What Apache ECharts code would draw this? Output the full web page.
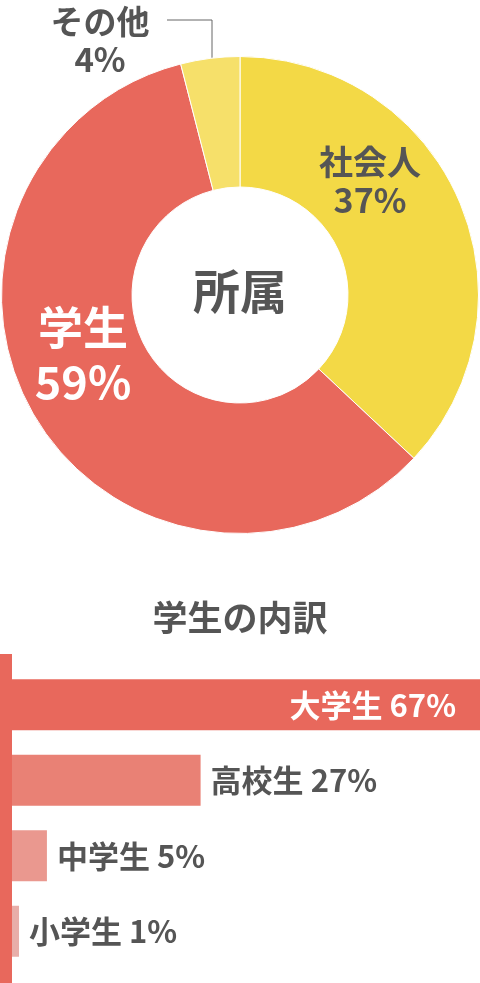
<!DOCTYPE html>
<html>
<head>
<meta charset="utf-8">
<script src="https://cdn.jsdelivr.net/npm/echarts@6/dist/echarts.min.js"></script>
<style>
html,body{margin:0;padding:0;background:#fff;}
#c{width:480px;height:983px;}
</style>
</head>
<body>
<div id="c"></div>
<script>
// ---- data ----
var pieCategories = ['社会人', '学生', 'その他'];
var pieValues = [37, 59, 4];
var pieTitle = '所属';

var barTitle = '学生の内訳';
var barCategories = ['大学生', '高校生', '中学生', '小学生'];
var barValues = [67, 27, 5, 1];

// ---- styles ----
var FONT = '"Noto Sans CJK JP", "Noto Sans", sans-serif';
var W = 'bold';
var TEXT = '#555555';
var pieColors = ['#F3D946', '#E8685C', '#F6E06A'];
var pieLabelStyle = [
  {color: TEXT, fontSize: 34, lineHeight: 38, pos: 'inside', x: 370, y: 181},
  {color: '#ffffff', fontSize: 45, lineHeight: 54, pos: 'inside', x: 83, y: 355},
  {color: TEXT, fontSize: 33, lineHeight: 38, pos: 'outside', x: 100, y: 40,
   line: [[212, 78], [212, 20], [167, 20]]}
];
var barColors = ['#E8685C', '#E98175', '#EA988F', '#E8AEA9'];
var barLabelInside = [true, false, false, false];

var chart = echarts.init(document.getElementById('c'), null, {renderer: 'canvas'});

var pieData = pieCategories.map(function (n, i) {
  var s = pieLabelStyle[i];
  return {
    name: n, value: pieValues[i],
    itemStyle: {color: pieColors[i]},
    label: {position: s.pos, color: s.color, fontSize: s.fontSize, lineHeight: s.lineHeight},
    labelLine: {show: !!s.line}
  };
});

var barData = barCategories.map(function (n, i) {
  var inside = barLabelInside[i];
  return {
    value: barValues[i],
    itemStyle: {color: barColors[i]},
    label: inside
      ? {position: 'insideRight', color: '#ffffff', distance: 24}
      : {position: 'right', color: TEXT, distance: 10}
  };
});

chart.setOption({
  animation: false,
  backgroundColor: '#ffffff',
  textStyle: {fontFamily: FONT},
  title: [{
    text: barTitle, left: 'center', top: 595,
    textStyle: {fontFamily: FONT, fontSize: 35, fontWeight: W, color: TEXT}
  }],
  graphic: [
    {type: 'text', left: 'center', top: 268, z: 10,
     style: {text: pieTitle, font: W + ' 47px ' + FONT, fill: TEXT}},
    {type: 'rect', shape: {x: 0, y: 654, width: 12, height: 329}, z: 10,
     style: {fill: '#E8685C'}}
  ],
  grid: {left: 12, right: 0, top: 667, height: 302},
  xAxis: {type: 'value', min: 0, max: 67, show: false},
  yAxis: {type: 'category', inverse: true, data: barCategories, show: false},
  series: [
    {
      type: 'pie',
      center: [240, 295],
      radius: [108, 238.5],
      startAngle: 90,
      clockwise: true,
      avoidLabelOverlap: false,
      itemStyle: {borderColor: '#ffffff', borderWidth: 1},
      label: {
        show: true, fontFamily: FONT, fontWeight: W,
        formatter: function (p) { return p.name + '\n' + p.value + '%'; }
      },
      labelLine: {lineStyle: {color: '#666666', width: 1}},
      labelLayout: function (p) {
        var s = pieLabelStyle[p.dataIndex];
        var o = {x: s.x, y: s.y, align: 'center', verticalAlign: 'middle'};
        if (s.line) o.labelLinePoints = s.line;
        return o;
      },
      emphasis: {disabled: true},
      data: pieData
    },
    {
      type: 'bar',
      barWidth: 51,
      label: {
        show: true, fontFamily: FONT, fontWeight: W, fontSize: 31,
        formatter: function (p) { return p.name + ' ' + p.value + '%'; }
      },
      data: barData
    }
  ]
});
</script>
</body>
</html>
